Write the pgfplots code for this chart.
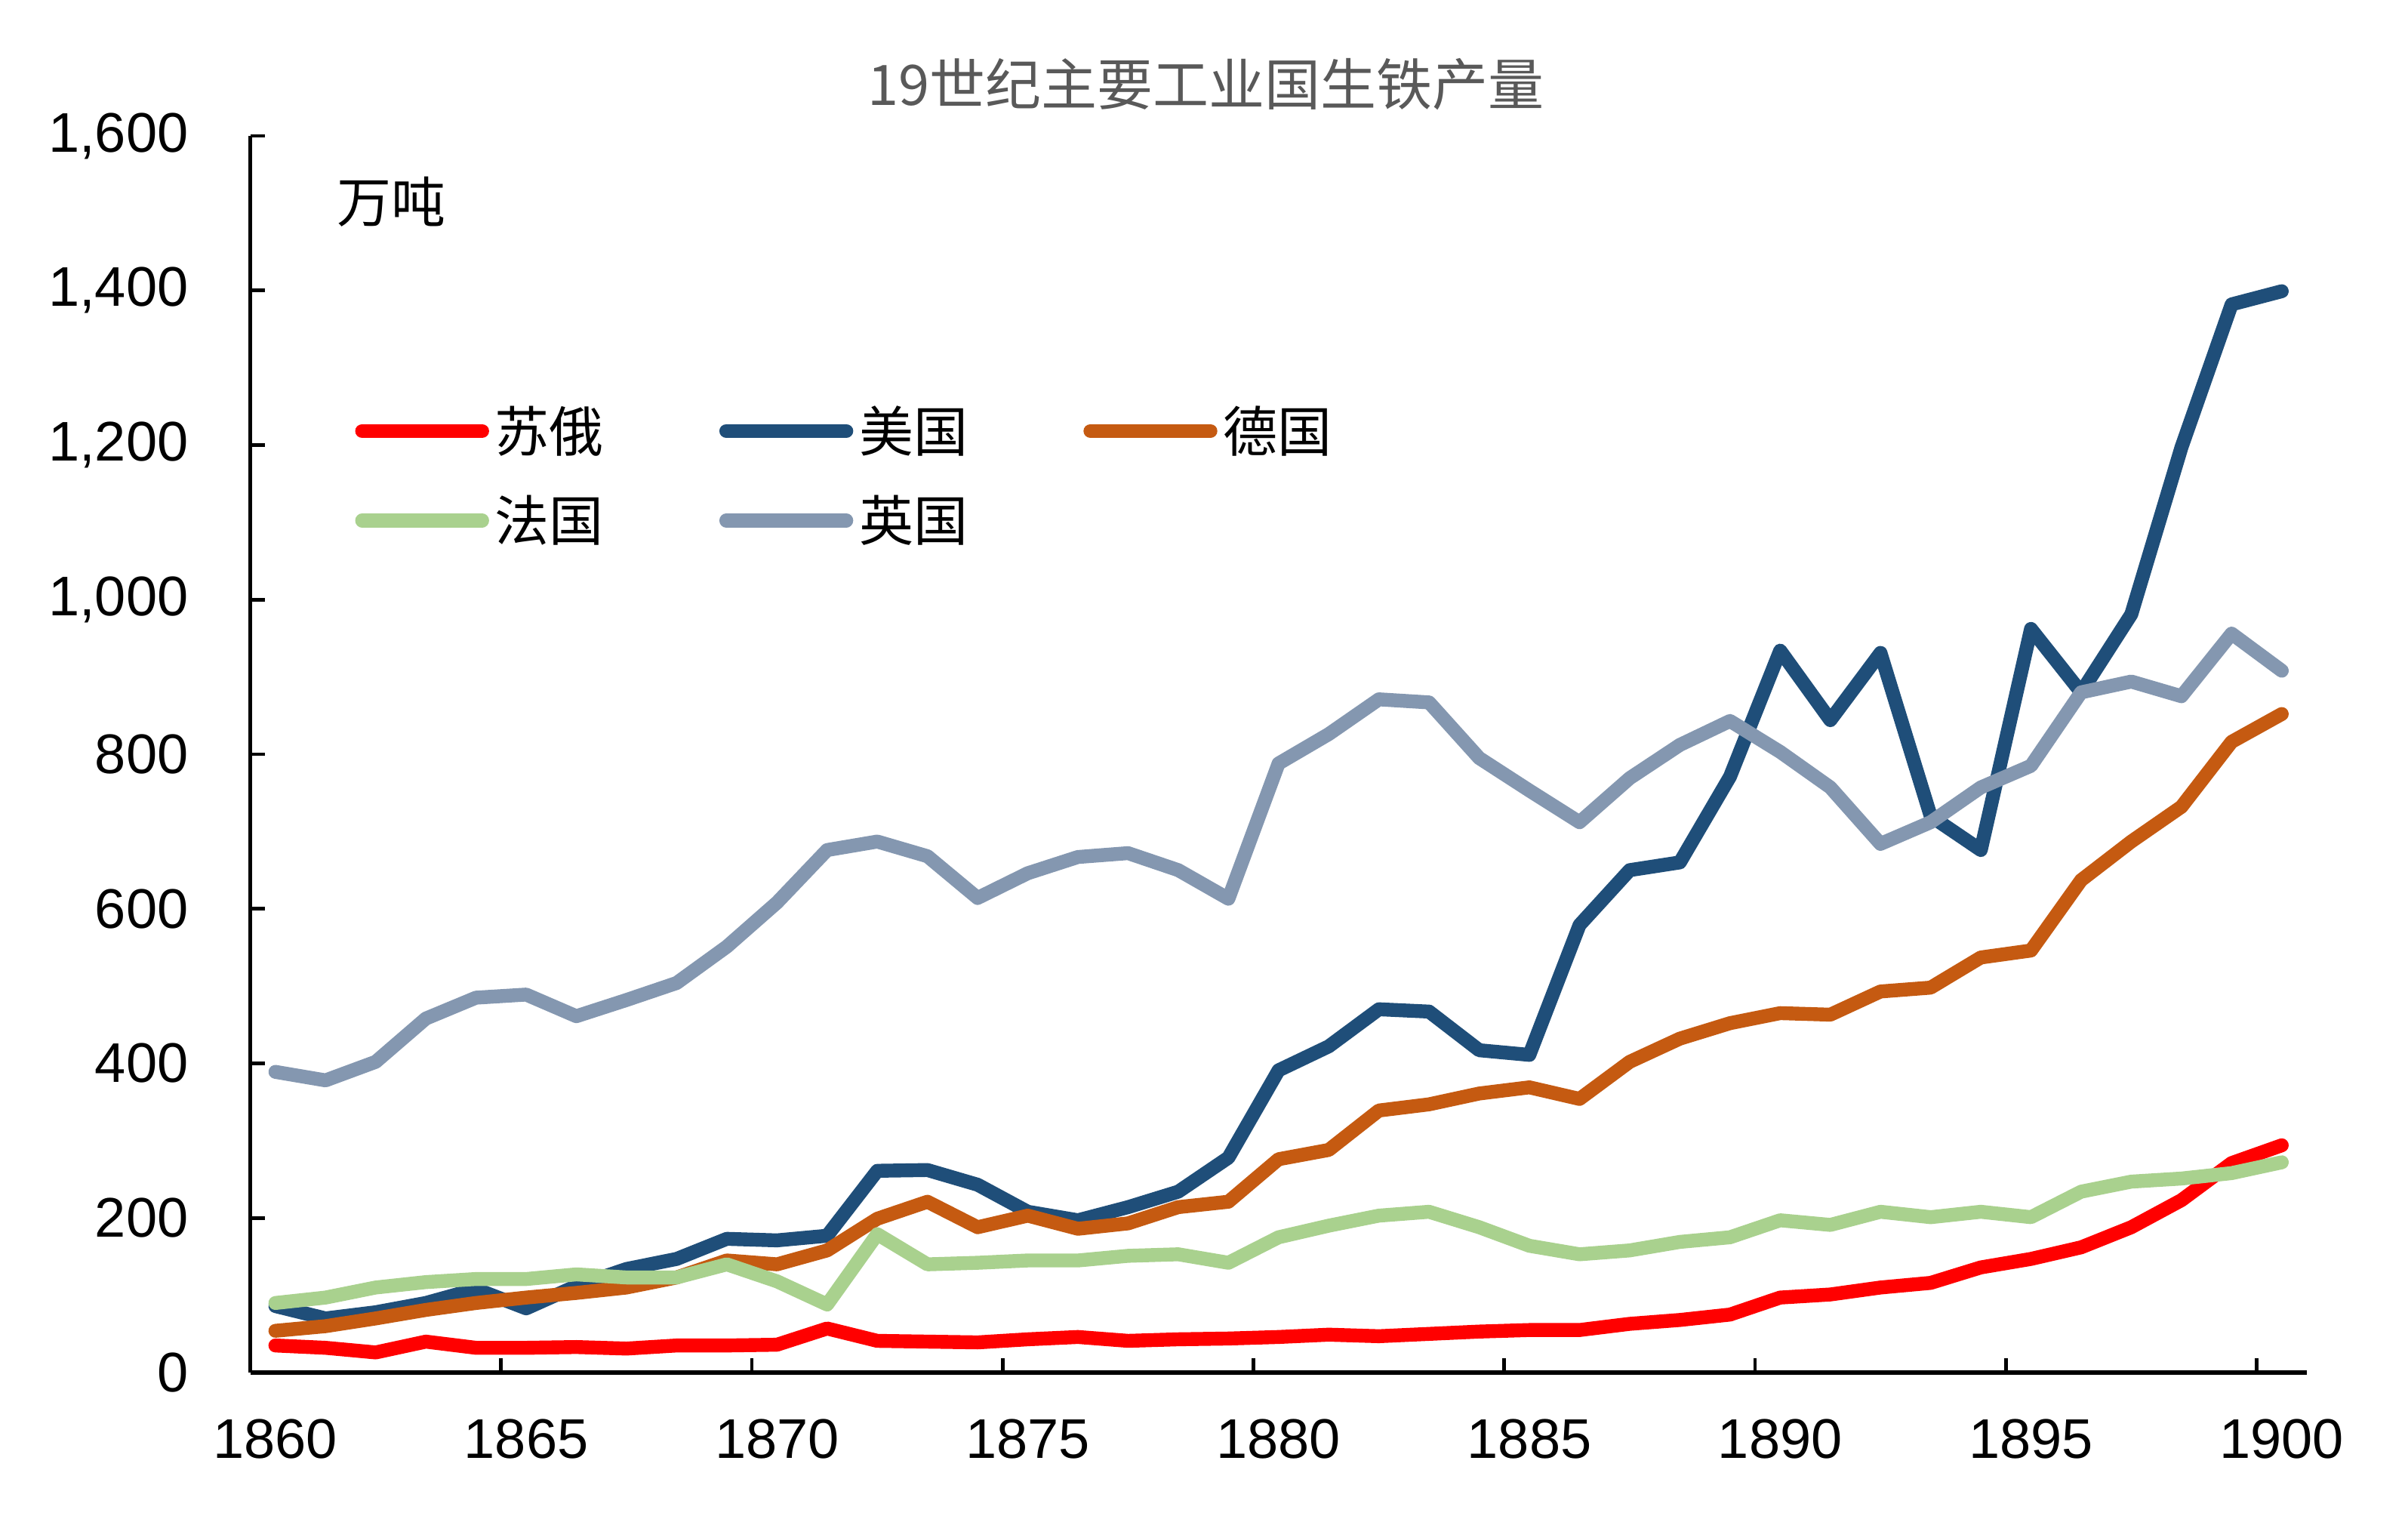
\documentclass[border=0pt]{standalone}
\usepackage{pgfplots}
\pgfplotsset{compat=1.18}
\usepackage{pgfplotstable}
\usepackage{fontspec}
\setmainfont{Liberation Sans}
\newfontfamily\cjk{Noto Sans CJK SC}
\definecolor{cRU}{HTML}{FF0000}
\definecolor{cUS}{HTML}{1F4E79}
\definecolor{cDE}{HTML}{C55A11}
\definecolor{cFR}{HTML}{A9D18E}
\definecolor{cUK}{HTML}{8497B0}
\definecolor{ctitle}{HTML}{595959}
\pgfplotstableread{
year ru us de fr uk
1860 35 86 54 90 389
1861 32 70 60 97 378
1862 26 78 70 110 402
1863 40 90 81 117 458
1864 32 108 90 121 485
1865 32 83 97 121 489
1866 33 112 103 127 461
1867 31 134 110 123 482
1868 35 147 123 123 504
1869 35 173 145 140 551
1870 36 171 140 118 608
1871 57 177 158 88 676
1872 41 261 199 179 687
1873 40 262 221 140 668
1874 39 243 188 142 614
1875 43 208 203 145 646
1876 46 197 186 145 667
1877 41 214 193 151 672
1878 43 234 214 153 650
1879 44 278 221 142 613
1880 46 391 276 175 788
1881 49 422 288 190 826
1882 47 470 339 203 871
1883 50 467 347 208 867
1884 53 417 361 188 795
1885 55 411 369 164 753
1886 55 579 354 153 712
1887 63 650 402 158 769
1888 68 660 432 169 812
1889 75 771 452 175 843
1890 97 934 465 197 803
1891 101 844 463 191 757
1892 110 931 493 208 684
1893 116 720 498 201 712
1894 136 676 537 208 757
1895 147 962 546 201 785
1896 162 880 637 234 880
1897 188 981 687 247 894
1898 223 1197 732 251 875
1899 271 1382 816 258 956
1900 294 1399 852 272 908
}\data
\begin{document}
\begin{tikzpicture}
\begin{axis}[
  scale only axis, width=681.1pt, height=409.5pt,
  at={(0pt,0pt)}, anchor=south west,
  xmin=1859.5, xmax=1900.5, ymin=0, ymax=1600,
  axis lines*=left,
  x axis line style={line width=1.5pt},
  y axis line style={line width=1.1pt},
  tick align=inside,
  tick style={black, line width=1.2pt},
  major tick length=4.8pt,
  xtick={1864.5,1869.5,...,1899.5},
  xticklabels={},
  extra x ticks={1860,1865,...,1900},
  extra x tick labels={1860,1865,1870,1875,1880,1885,1890,1895,1900},
  extra x tick style={major tick length=0pt},
  ytick={0,200,...,1600},
  /pgf/number format/assume math mode=true,
  /pgf/number format/1000 sep={,},
  tick label style={font=\fontsize{18.5}{22}\selectfont},
  xticklabel style={yshift=-12pt},
  yticklabel style={xshift=-17pt},
  legend columns=3,
  legend cell align=left,
  legend style={at={(axis description cs:0.043,0.792)}, anchor=north west,
    draw=none, fill=none, font=\cjk\fontsize{18}{21.6}\selectfont,
    /tikz/every even column/.append style={column sep=34pt},
    row sep=9pt},
  legend image code/.code={\path (-2.25pt,0pt) (39pt,0pt);\draw[#1, line width=4.6pt, line cap=round] (0pt,0pt) -- (39.75pt,0pt);},
  every axis plot/.append style={line width=4.6pt, line cap=round, line join=round},
]
\addplot[cRU] table[x=year,y=ru]{\data};
\addlegendentry{苏俄}
\addplot[cUS] table[x=year,y=us]{\data};
\addlegendentry{美国}
\addplot[cDE] table[x=year,y=de]{\data};
\addlegendentry{德国}
\addplot[cFR] table[x=year,y=fr]{\data};
\addlegendentry{法国}
\addplot[cUK] table[x=year,y=uk]{\data};
\addlegendentry{英国}
\node[font=\cjk\fontsize{18}{21.6}\selectfont] at (axis description cs:0.0686,0.9469) {万吨};
\end{axis}
\node[font=\cjk\fontsize{18.5}{22}\selectfont, text=ctitle] at (316.4pt,426.5pt) {19世纪主要工业国生铁产量};
\pgfresetboundingbox
\path (-82.9pt,-47.5pt) rectangle (714.6pt,454.5pt);
\end{tikzpicture}
\end{document}
